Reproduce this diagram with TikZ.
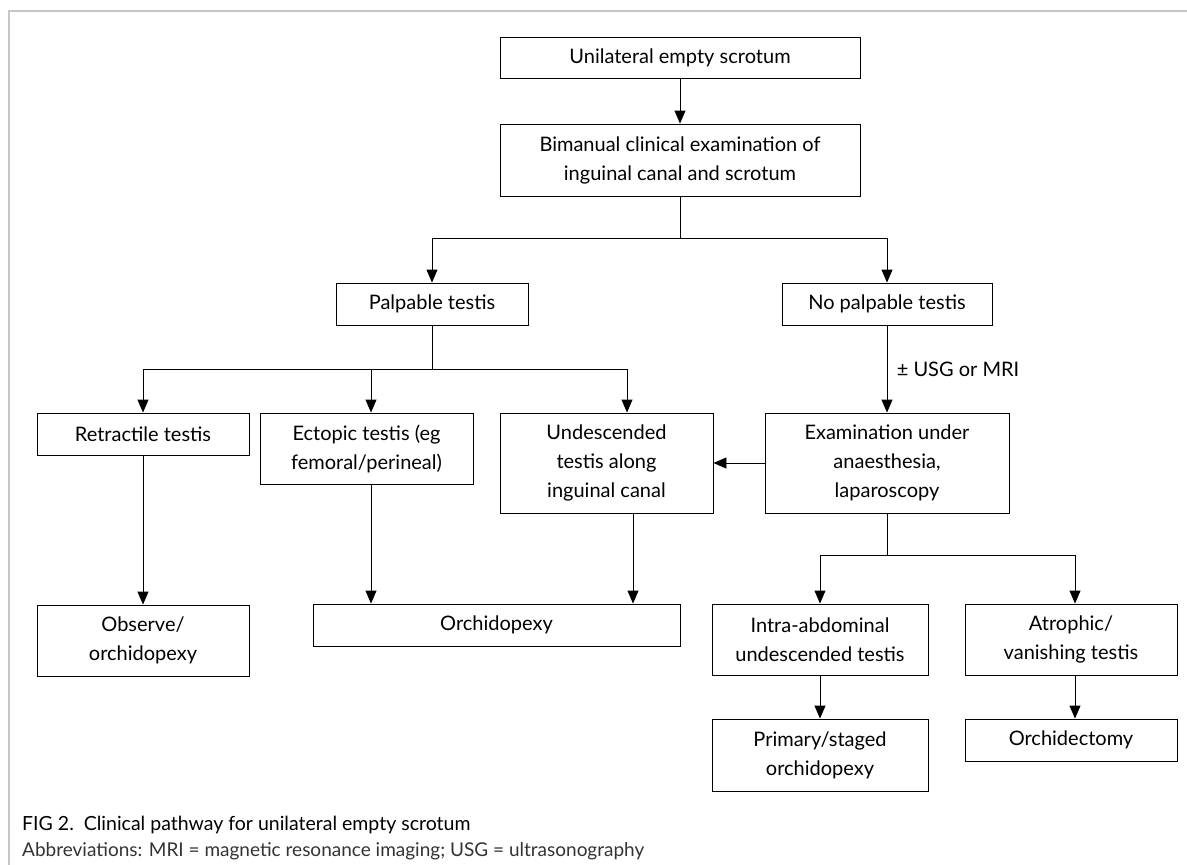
\documentclass[tikz,border=0pt]{standalone}
\usepackage{fontspec}
\setmainfont{Lato}
\usetikzlibrary{arrows.meta}

\tikzset{
  box/.style={draw, line width=0.9pt, align=center, inner sep=0pt,
    font=\fontsize{20}{29}\selectfont},
  arr/.style={line width=0.9pt, -{Triangle[length=13pt,width=11pt]}},
  link/.style={line width=0.9pt}
}

\begin{document}
\begin{tikzpicture}[x=1pt, y=-1pt]
    \useasboundingbox (0,0) rectangle (1187,865);
    % frame
    \draw[black!22, line width=1.6pt] (9,865) -- (9,11) -- (1187,11);
    % boxes
    \node[box, minimum width=360, minimum height=41] (top) at (680,57.5) {Unilateral empty scrotum};
    \node[box, minimum width=360, minimum height=72] (bimanual) at (680,160) {Bimanual clinical examination of\\inguinal canal and scrotum};
    \node[box, minimum width=192, minimum height=42] (palp) at (432,304) {Palpable testis};
    \node[box, minimum width=210, minimum height=42] (nopalp) at (887,304) {No palpable testis};
    \node[box, minimum width=212, minimum height=42] (retract) at (143,434) {Retractile testis};
    \node[box, minimum width=213, minimum height=71] (ectopic) at (366.5,448.5) {Ectopic testis (eg\\femoral/perineal)};
    \node[box, minimum width=213, minimum height=100] (undesc) at (606.5,463) {Undescended\\testis along\\inguinal canal};
    \node[box, minimum width=244, minimum height=100] (exam) at (887,463) {Examination under\\anaesthesia,\\laparoscopy};
    \node[box, minimum width=212, minimum height=71] (observe) at (143,640.5) {Observe/\\orchidopexy};
    \node[box, minimum width=367, minimum height=42] (orchi) at (496.5,625) {Orchidopexy};
    \node[box, minimum width=216, minimum height=71] (intra) at (820,639.5) {Intra-abdominal\\undescended testis};
    \node[box, minimum width=212, minimum height=71] (atroph) at (1071,639.5) {Atrophic/\\vanishing testis};
    \node[box, minimum width=216, minimum height=72] (primary) at (820,755) {Primary/staged\\orchidopexy};
    \node[box, minimum width=212, minimum height=42] (orchidect) at (1071,740) {Orchidectomy};
    % connectors
    \draw[arr] (top) -- (bimanual);
    \draw[link] (bimanual.south) -- ++(0,42) coordinate (split1);
    \draw[arr] (split1) -| (palp.north);
    \draw[arr] (split1) -| (nopalp.north);
    \draw[link] (palp.south) -- ++(0,44) coordinate (split2);
    \draw[arr] (split2) -| (retract.north);
    \draw[arr] (split2) -| ([xshift=4.5pt]ectopic.north);
    \draw[arr] (split2) -| ([xshift=20.5pt]undesc.north);
    \draw[arr] (retract) -- (observe);
    \draw[arr] ([xshift=4.5pt]ectopic.south) -- ([xshift=4.5pt]ectopic.south |- orchi.north);
    \draw[arr] ([xshift=26.5pt]undesc.south) -- ([xshift=26.5pt]undesc.south |- orchi.north);
    \draw[arr] (nopalp) -- node[right=6pt, font=\fontsize{20}{24}\selectfont]{± USG or MRI} (exam);
    \draw[arr] (exam) -- (undesc);
    \draw[link] (exam.south) -- ++(0,42) coordinate (split3);
    \draw[arr] (split3) -| (intra.north);
    \draw[arr] (split3) -| ([xshift=4pt]atroph.north);
    \draw[arr] (intra) -- (primary);
    \draw[arr] ([xshift=4pt]atroph.south) -- ([xshift=4pt]orchidect.north);
    % caption
    \node[anchor=base west, inner sep=0pt, font=\fontsize{19.5}{22}\selectfont] (cap) at (22,830) {FIG 2.\ \ Clinical pathway for unilateral empty scrotum};
    \node[anchor=base west, inner sep=0pt, text=black!80, font=\fontsize{19}{22}\selectfont] (abbr) at (22,856) {Abbreviations: MRI = magnetic resonance imaging; USG = ultrasonography};
\end{tikzpicture}
\end{document}
